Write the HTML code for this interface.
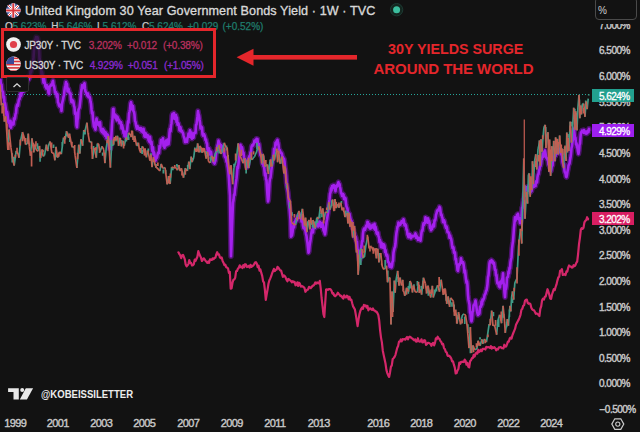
<!DOCTYPE html>
<html><head><meta charset="utf-8">
<style>
html,body{margin:0;padding:0;}
body{width:640px;height:432px;overflow:hidden;background:#121212;position:relative;font-family:"Liberation Sans",sans-serif;}
.abs{position:absolute;white-space:nowrap;}
svg{position:absolute;left:0;top:0;}
.yl{position:absolute;left:599px;font-size:10px;color:#c8c8c8;line-height:10px;height:10px;letter-spacing:-0.5px;-webkit-text-stroke:0.4px #c8c8c8;}
.xl{position:absolute;top:418.2px;font-size:11px;color:#c8c8c8;line-height:11px;width:40px;text-align:center;letter-spacing:-0.6px;-webkit-text-stroke:0.4px #c8c8c8;}
.lb{position:absolute;left:592px;width:42px;height:13px;color:#fff;font-size:10px;line-height:13px;text-align:left;}
.ohlc{top:21px;font-size:10px;line-height:11px;color:#1f7d6d;-webkit-text-stroke:0.25px currentColor;}
.lg{font-size:10px;line-height:11px;letter-spacing:-0.15px;-webkit-text-stroke:0.3px currentColor;}
.lb span{position:absolute;left:7px;top:0.8px;letter-spacing:-0.55px;-webkit-text-stroke:0.3px #fff;}
</style></head><body>

<svg width="640" height="432" viewBox="0 0 640 432">
  <line x1="0" y1="94.5" x2="591" y2="94.5" stroke="#26a69a" stroke-width="1" stroke-dasharray="1 2"/>
  <defs><path id="pp" d="M0.0,78.7 0.5,80.0 1.0,86.1 1.5,84.4 2.0,90.3 2.5,91.5 3.0,91.8 3.5,97.6 4.0,96.7 4.5,102.6 5.0,103.2 5.5,106.4 6.0,110.8 6.5,115.3 7.0,111.8 7.5,114.2 8.0,118.7 8.5,122.6 9.0,121.6 9.5,121.3 10.0,126.4 10.5,120.7 11.0,127.6 11.5,124.5 12.0,124.4 12.5,122.6 13.0,122.4 13.5,124.5 14.0,118.3 14.5,119.6 15.0,118.1 15.5,114.1 16.0,113.2 16.5,107.6 17.0,105.4 17.5,104.3 18.0,105.7 18.5,101.9 19.0,99.2 19.5,99.2 20.0,96.2 20.5,93.4 21.0,96.0 21.5,94.3 22.0,90.0 22.5,91.5 23.0,90.1 23.5,91.7 24.0,89.7 24.5,85.5 25.0,89.5 25.5,82.3 26.0,83.4 26.5,84.9 27.0,79.5 27.5,80.9 28.0,76.7 28.5,79.7 29.0,78.9 29.5,76.0 30.0,76.7 30.5,71.2 31.0,72.4 31.5,70.2 32.0,68.6 32.5,63.2 33.0,61.4 33.5,57.7 34.0,49.8 34.5,47.7 35.0,39.8 35.5,41.0 36.0,37.1 36.5,40.6 37.0,40.3 37.5,37.4 38.0,39.2 38.5,47.5 39.0,49.1 39.5,58.5 40.0,62.6 40.5,64.6 41.0,66.5 41.5,73.9 42.0,71.7 42.5,74.8 43.0,78.2 43.5,82.7 44.0,77.9 44.5,81.6 45.0,83.3 45.5,86.7 46.0,87.2 46.5,88.5 47.0,85.3 47.5,87.3 48.0,88.0 48.5,92.8 49.0,93.9 49.5,87.1 50.0,86.3 50.5,85.7 51.0,84.7 51.5,85.5 52.0,85.2 52.5,81.9 53.0,80.8 53.5,85.0 54.0,85.9 54.5,88.6 55.0,92.6 55.5,91.9 56.0,92.3 56.5,94.9 57.0,97.1 57.5,94.4 58.0,102.3 58.5,103.2 59.0,105.4 59.5,106.3 60.0,104.8 60.5,106.3 61.0,105.7 61.5,111.0 62.0,104.2 62.5,101.5 63.0,99.9 63.5,96.8 64.0,95.3 64.5,90.4 65.0,87.1 65.5,85.3 66.0,82.0 66.5,85.2 67.0,84.0 67.5,91.4 68.0,90.8 68.5,88.7 69.0,90.8 69.5,92.7 70.0,94.0 70.5,93.5 71.0,100.0 71.5,102.3 72.0,99.8 72.5,101.7 73.0,100.6 73.5,102.5 74.0,106.0 74.5,107.2 75.0,113.7 75.5,112.2 76.0,114.6 76.5,125.2 77.0,127.2 77.5,119.8 78.0,118.0 78.5,109.6 79.0,108.6 79.5,107.7 80.0,103.6 80.5,99.1 81.0,92.6 81.5,90.1 82.0,85.3 82.5,88.2 83.0,86.1 83.5,87.5 84.0,83.9 84.5,83.2 85.0,88.9 85.5,91.7 86.0,92.2 86.5,93.3 87.0,94.9 87.5,95.8 88.0,93.6 88.5,97.2 89.0,97.5 89.5,96.6 90.0,98.1 90.5,101.6 91.0,103.8 91.5,109.2 92.0,113.5 92.5,112.2 93.0,119.1 93.5,123.2 94.0,126.7 94.5,125.9 95.0,128.2 95.5,129.6 96.0,122.4 96.5,118.5 97.0,122.0 97.5,124.5 98.0,124.6 98.5,122.5 99.0,124.2 99.5,126.1 100.0,122.2 100.5,127.6 101.0,130.7 101.5,131.0 102.0,132.1 102.5,130.8 103.0,128.9 103.5,133.5 104.0,130.5 104.5,134.1 105.0,135.6 105.5,132.2 106.0,133.2 106.5,138.2 107.0,137.6 107.5,134.6 108.0,135.3 108.5,138.0 109.0,146.4 109.5,148.6 110.0,146.8 110.5,148.7 111.0,142.9 111.5,133.6 112.0,124.5 112.5,119.0 113.0,109.0 113.5,108.9 114.0,116.5 114.5,114.8 115.0,114.6 115.5,118.2 116.0,115.5 116.5,119.7 117.0,120.3 117.5,116.9 118.0,118.2 118.5,119.5 119.0,119.9 119.5,123.1 120.0,121.5 120.5,123.4 121.0,122.1 121.5,128.4 122.0,125.1 122.5,127.1 123.0,129.4 123.5,133.2 124.0,131.2 124.5,136.2 125.0,134.7 125.5,136.4 126.0,137.8 126.5,131.1 127.0,131.0 127.5,126.1 128.0,121.2 128.5,122.6 129.0,113.8 129.5,111.7 130.0,109.2 130.5,103.7 131.0,102.2 131.5,105.0 132.0,106.6 132.5,109.7 133.0,106.1 133.5,111.3 134.0,111.8 134.5,114.8 135.0,121.1 135.5,121.9 136.0,125.0 136.5,127.1 137.0,128.8 137.5,126.1 138.0,128.0 138.5,127.8 139.0,128.4 139.5,129.7 140.0,128.0 140.5,128.5 141.0,128.1 141.5,131.5 142.0,129.7 142.5,131.0 143.0,132.5 143.5,128.8 144.0,132.2 144.5,136.3 145.0,136.8 145.5,133.0 146.0,134.1 146.5,137.3 147.0,134.9 147.5,136.3 148.0,135.4 148.5,139.9 149.0,141.0 149.5,142.0 150.0,136.9 150.5,142.6 151.0,143.9 151.5,141.8 152.0,148.8 152.5,151.1 153.0,147.4 153.5,154.4 154.0,152.2 154.5,154.6 155.0,160.0 155.5,160.6 156.0,157.6 156.5,158.3 157.0,157.6 157.5,155.1 158.0,152.9 158.5,152.2 159.0,153.1 159.5,146.0 160.0,147.8 160.5,145.0 161.0,140.0 161.5,140.2 162.0,140.3 162.5,140.5 163.0,138.3 163.5,145.9 164.0,145.5 164.5,147.8 165.0,142.0 165.5,142.6 166.0,140.5 166.5,145.3 167.0,141.1 167.5,139.6 168.0,141.2 168.5,144.3 169.0,140.3 169.5,133.0 170.0,129.0 170.5,131.3 171.0,125.5 171.5,123.2 172.0,115.5 172.5,113.8 173.0,118.0 173.5,115.8 174.0,113.0 174.5,118.9 175.0,116.4 175.5,118.9 176.0,115.0 176.5,121.9 177.0,117.6 177.5,124.6 178.0,123.0 178.5,123.5 179.0,126.4 179.5,130.4 180.0,126.9 180.5,127.3 181.0,131.4 181.5,130.6 182.0,130.9 182.5,132.5 183.0,132.9 183.5,135.3 184.0,137.3 184.5,138.3 185.0,142.2 185.5,139.5 186.0,141.7 186.5,140.0 187.0,141.9 187.5,137.6 188.0,137.3 188.5,133.6 189.0,136.8 189.5,133.5 190.0,130.2 190.5,133.2 191.0,137.5 191.5,132.6 192.0,138.7 192.5,136.9 193.0,136.5 193.5,137.6 194.0,133.1 194.5,132.6 195.0,132.6 195.5,132.9 196.0,124.8 196.5,124.7 197.0,120.3 197.5,116.2 198.0,111.0 198.5,114.1 199.0,115.5 199.5,119.5 200.0,122.5 200.5,128.4 201.0,126.3 201.5,126.9 202.0,127.6 202.5,134.1 203.0,135.6 203.5,135.5 204.0,134.2 204.5,135.4 205.0,137.3 205.5,140.0 206.0,139.4 206.5,142.9 207.0,143.2 207.5,149.4 208.0,150.7 208.5,149.1 209.0,148.3 209.5,154.4 210.0,151.2 210.5,152.8 211.0,151.6 211.5,155.7 212.0,157.7 212.5,159.4 213.0,158.8 213.5,162.3 214.0,160.4 214.5,163.6 215.0,161.9 215.5,160.5 216.0,154.7 216.5,151.1 217.0,149.5 217.5,145.6 218.0,144.4 218.5,140.6 219.0,143.1 219.5,143.5 220.0,145.0 220.5,147.1 221.0,145.0 221.5,145.6 222.0,150.9 222.5,146.7 223.0,151.5 223.5,152.2 224.0,149.5 224.5,155.7 225.0,157.2 225.5,156.7 226.0,158.5 226.5,161.7 227.0,160.2 227.5,165.4 228.0,168.0 228.5,172.8 229.0,179.1 229.5,188.1 230.0,195.5 230.5,227.5 231.0,256.2 231.5,243.7 232.0,228.3 232.5,214.6 233.0,202.7 233.5,200.1 234.0,194.5 234.5,195.1 235.0,189.4 235.5,185.8 236.0,181.8 236.5,178.4 237.0,173.6 237.5,166.9 238.0,168.1 238.5,164.1 239.0,158.8 239.5,155.2 240.0,152.2 240.5,144.9 241.0,148.3 241.5,146.9 242.0,147.3 242.5,149.9 243.0,154.2 243.5,152.6 244.0,157.2 244.5,160.2 245.0,159.0 245.5,160.0 246.0,162.2 246.5,165.1 247.0,167.2 247.5,165.8 248.0,164.0 248.5,158.7 249.0,157.2 249.5,155.9 250.0,156.8 250.5,152.3 251.0,151.9 251.5,146.9 252.0,145.5 252.5,145.0 253.0,145.6 253.5,144.0 254.0,143.1 254.5,140.6 255.0,141.7 255.5,141.1 256.0,140.9 256.5,138.7 257.0,142.8 257.5,139.1 258.0,145.5 258.5,147.2 259.0,144.0 259.5,148.5 260.0,152.5 260.5,155.4 261.0,154.7 261.5,155.8 262.0,157.7 262.5,164.0 263.0,162.0 263.5,166.3 264.0,166.0 264.5,170.5 265.0,175.3 265.5,173.2 266.0,179.4 266.5,180.1 267.0,188.2 267.5,195.7 268.0,201.5 268.5,199.2 269.0,190.9 269.5,182.4 270.0,178.6 270.5,177.6 271.0,173.7 271.5,169.2 272.0,164.6 272.5,161.9 273.0,158.0 273.5,157.1 274.0,148.8 274.5,150.6 275.0,148.8 275.5,142.8 276.0,144.8 276.5,141.4 277.0,141.0 277.5,139.9 278.0,142.4 278.5,144.5 279.0,149.7 279.5,149.7 280.0,150.5 280.5,152.9 281.0,153.1 281.5,152.9 282.0,154.1 282.5,158.9 283.0,157.1 283.5,161.4 284.0,158.8 284.5,161.3 285.0,167.2 285.5,170.2 286.0,175.7 286.5,183.4 287.0,186.6 287.5,189.8 288.0,192.5 288.5,198.3 289.0,203.8 289.5,207.1 290.0,213.4 290.5,219.9 291.0,236.6 291.5,236.0 292.0,235.3 292.5,232.6 293.0,228.5 293.5,225.0 294.0,227.5 294.5,222.0 295.0,222.5 295.5,220.4 296.0,218.8 296.5,219.8 297.0,220.3 297.5,216.4 298.0,218.2 298.5,216.1 299.0,217.2 299.5,216.2 300.0,214.8 300.5,214.8 301.0,216.5 301.5,221.5 302.0,220.8 302.5,220.8 303.0,225.8 303.5,228.1 304.0,227.1 304.5,227.4 305.0,229.5 305.5,230.8 306.0,234.0 306.5,235.9 307.0,239.8 307.5,243.1 308.0,247.9 308.5,252.7 309.0,251.3 309.5,246.1 310.0,242.7 310.5,239.9 311.0,235.8 311.5,232.2 312.0,229.7 312.5,229.8 313.0,232.4 313.5,227.1 314.0,228.0 314.5,227.7 315.0,227.9 315.5,224.0 316.0,224.0 316.5,223.6 317.0,224.2 317.5,224.1 318.0,226.5 318.5,225.7 319.0,225.7 319.5,221.5 320.0,221.8 320.5,225.6 321.0,226.8 321.5,224.9 322.0,225.7 322.5,222.9 323.0,226.1 323.5,230.2 324.0,231.0 324.5,232.5 325.0,234.4 325.5,230.9 326.0,226.0 326.5,222.0 327.0,219.8 327.5,216.4 328.0,213.4 328.5,208.0 329.0,203.3 329.5,199.7 330.0,193.8 330.5,192.6 331.0,188.3 331.5,190.5 332.0,186.0 332.5,188.0 333.0,186.0 333.5,185.2 334.0,185.3 334.5,186.9 335.0,189.9 335.5,191.2 336.0,187.3 336.5,185.7 337.0,186.7 337.5,185.6 338.0,183.2 338.5,182.2 339.0,185.6 339.5,184.0 340.0,187.0 340.5,189.3 341.0,193.4 341.5,193.3 342.0,196.0 342.5,194.6 343.0,194.0 343.5,194.7 344.0,199.1 344.5,198.5 345.0,197.7 345.5,198.5 346.0,203.3 346.5,206.5 347.0,207.5 347.5,209.0 348.0,212.8 348.5,215.6 349.0,213.5 349.5,214.0 350.0,217.1 350.5,219.0 351.0,221.8 351.5,221.1 352.0,226.2 352.5,228.0 353.0,228.9 353.5,229.4 354.0,235.4 354.5,233.6 355.0,237.8 355.5,236.4 356.0,237.9 356.5,242.3 357.0,241.9 357.5,249.0 358.0,250.2 358.5,252.3 359.0,256.2 359.5,260.8 360.0,259.4 360.5,256.6 361.0,248.2 361.5,245.8 362.0,241.1 362.5,241.4 363.0,233.4 363.5,230.1 364.0,228.6 364.5,228.8 365.0,229.9 365.5,228.3 366.0,226.0 366.5,225.9 367.0,224.0 367.5,221.9 368.0,222.2 368.5,227.1 369.0,227.1 369.5,224.4 370.0,228.7 370.5,228.3 371.0,228.3 371.5,227.6 372.0,226.3 372.5,224.9 373.0,225.9 373.5,225.7 374.0,228.4 374.5,223.9 375.0,229.6 375.5,226.9 376.0,229.0 376.5,232.7 377.0,234.0 377.5,233.3 378.0,232.6 378.5,236.3 379.0,237.4 379.5,242.0 380.0,240.0 380.5,242.6 381.0,247.1 381.5,242.9 382.0,245.2 382.5,247.6 383.0,247.7 383.5,244.2 384.0,244.7 384.5,246.2 385.0,252.0 385.5,249.9 386.0,253.7 386.5,255.8 387.0,254.7 387.5,256.4 388.0,262.0 388.5,262.3 389.0,262.5 389.5,266.6 390.0,265.0 390.5,265.3 391.0,264.3 391.5,267.5 392.0,265.8 392.5,261.8 393.0,260.8 393.5,252.7 394.0,250.3 394.5,248.0 395.0,247.0 395.5,243.5 396.0,237.0 396.5,232.7 397.0,230.0 397.5,226.7 398.0,226.7 398.5,222.5 399.0,225.4 399.5,224.7 400.0,224.9 400.5,224.3 401.0,223.1 401.5,221.3 402.0,220.9 402.5,220.8 403.0,222.7 403.5,219.3 404.0,221.3 404.5,225.4 405.0,224.1 405.5,224.5 406.0,225.6 406.5,229.6 407.0,229.8 407.5,234.5 408.0,235.3 408.5,237.2 409.0,234.5 409.5,233.9 410.0,234.3 410.5,236.8 411.0,238.2 411.5,237.2 412.0,235.8 412.5,236.1 413.0,236.4 413.5,236.0 414.0,235.7 414.5,235.8 415.0,235.5 415.5,233.4 416.0,237.8 416.5,235.6 417.0,237.7 417.5,237.3 418.0,239.9 418.5,237.8 419.0,238.7 419.5,239.3 420.0,239.5 420.5,240.7 421.0,236.4 421.5,232.5 422.0,230.2 422.5,230.6 423.0,226.0 423.5,223.2 424.0,224.9 424.5,222.7 425.0,223.2 425.5,217.2 426.0,219.2 426.5,221.3 427.0,221.8 427.5,222.6 428.0,218.4 428.5,220.4 429.0,220.8 429.5,222.5 430.0,227.9 430.5,227.2 431.0,230.3 431.5,227.1 432.0,229.0 432.5,226.2 433.0,224.5 433.5,226.6 434.0,226.5 434.5,220.2 435.0,220.7 435.5,218.9 436.0,214.8 436.5,213.6 437.0,211.0 437.5,210.3 438.0,209.6 438.5,210.4 439.0,209.6 439.5,206.9 440.0,207.8 440.5,211.4 441.0,215.2 441.5,214.6 442.0,217.2 442.5,218.1 443.0,222.1 443.5,221.8 444.0,220.3 444.5,221.5 445.0,224.1 445.5,226.2 446.0,228.0 446.5,226.4 447.0,228.1 447.5,232.2 448.0,231.9 448.5,232.3 449.0,233.4 449.5,237.8 450.0,235.4 450.5,237.7 451.0,238.5 451.5,240.9 452.0,245.2 452.5,248.0 453.0,246.8 453.5,247.9 454.0,252.7 454.5,251.9 455.0,252.9 455.5,259.5 456.0,259.0 456.5,263.8 457.0,264.6 457.5,270.0 458.0,270.8 458.5,267.2 459.0,264.3 459.5,265.0 460.0,263.4 460.5,262.8 461.0,258.2 461.5,261.9 462.0,261.5 462.5,263.2 463.0,262.2 463.5,263.9 464.0,267.7 464.5,272.3 465.0,270.6 465.5,275.1 466.0,279.3 466.5,282.7 467.0,281.2 467.5,285.7 468.0,294.7 468.5,299.7 469.0,301.9 469.5,304.5 470.0,312.7 470.5,313.3 471.0,319.4 471.5,321.3 472.0,318.8 472.5,311.8 473.0,311.4 473.5,305.6 474.0,304.6 474.5,304.9 475.0,302.9 475.5,300.5 476.0,303.7 476.5,307.6 477.0,311.2 477.5,313.4 478.0,315.0 478.5,313.6 479.0,314.1 479.5,313.0 480.0,306.5 480.5,307.1 481.0,306.6 481.5,301.6 482.0,304.5 482.5,299.5 483.0,300.7 483.5,299.2 484.0,298.4 484.5,295.4 485.0,294.3 485.5,293.5 486.0,291.0 486.5,290.6 487.0,287.8 487.5,284.1 488.0,277.1 488.5,275.3 489.0,269.7 489.5,263.5 490.0,261.4 490.5,262.1 491.0,261.0 491.5,260.2 492.0,262.4 492.5,261.1 493.0,261.8 493.5,264.0 494.0,262.9 494.5,267.1 495.0,269.9 495.5,269.9 496.0,275.4 496.5,275.0 497.0,280.8 497.5,283.4 498.0,283.6 498.5,282.7 499.0,286.5 499.5,286.1 500.0,287.4 500.5,281.5 501.0,283.5 501.5,282.6 502.0,279.5 502.5,278.3 503.0,273.4 503.5,282.5 504.0,285.0 504.5,292.4 505.0,297.2 505.5,289.5 506.0,289.0 506.5,286.0 507.0,277.7 507.5,277.0 508.0,276.9 508.5,271.6 509.0,273.2 509.5,267.8 510.0,268.4 510.5,262.2 511.0,259.5 511.5,257.2 512.0,248.9 512.5,244.6 513.0,241.3 513.5,234.8 514.0,227.7 514.5,222.9 515.0,217.2 515.5,220.6 516.0,218.6 516.5,219.1 517.0,214.7 517.5,217.3 518.0,213.9 518.5,217.4 519.0,219.3 519.5,219.2 520.0,223.2 520.5,222.8 521.0,219.5 521.5,216.4 522.0,207.7 522.5,208.0 523.0,203.2 523.5,199.1 524.0,198.3 524.5,193.0 525.0,194.7 525.5,190.5 526.0,187.3 526.5,189.6 527.0,188.1 527.5,186.9 528.0,190.0 528.5,186.6 529.0,190.8 529.5,188.0 530.0,190.2 530.5,192.2 531.0,190.3 531.5,190.9 532.0,188.3 532.5,185.9 533.0,185.3 533.5,185.2 534.0,186.8 534.5,185.1 535.0,184.8 535.5,186.0 536.0,181.3 536.5,181.0 537.0,182.5 537.5,176.9 538.0,174.5 538.5,174.0 539.0,170.4 539.5,169.4 540.0,166.3 540.5,165.9 541.0,163.6 541.5,159.3 542.0,159.1 542.5,156.0 543.0,153.3 543.5,156.8 544.0,152.5 544.5,151.4 545.0,150.4 545.5,153.1 546.0,156.5 546.5,158.1 547.0,158.3 547.5,159.7 548.0,160.5 548.5,164.7 549.0,165.2 549.5,165.1 550.0,167.6 550.5,167.5 551.0,171.0 551.5,168.2 552.0,163.9 552.5,165.6 553.0,159.4 553.5,160.3 554.0,158.1 554.5,155.9 555.0,153.7 555.5,156.1 556.0,150.8 556.5,152.3 557.0,153.6 557.5,148.8 558.0,148.5 558.5,149.9 559.0,148.7 559.5,149.7 560.0,152.3 560.5,150.7 561.0,153.2 561.5,154.8 562.0,155.3 562.5,161.9 563.0,163.7 563.5,165.7 564.0,164.3 564.5,171.0 565.0,172.7 565.5,173.1 566.0,176.5 566.5,177.0 567.0,174.9 567.5,171.5 568.0,169.4 568.5,165.6 569.0,164.4 569.5,163.6 570.0,160.1 570.5,157.6 571.0,153.6 571.5,148.0 572.0,146.2 572.5,141.8 573.0,139.5 573.5,134.0 574.0,128.6 574.5,133.7 575.0,138.6 575.5,137.9 576.0,144.5 576.5,143.2 577.0,147.3 577.5,148.2 578.0,151.8 578.5,153.9 579.0,150.9 579.5,144.8 580.0,143.7 580.5,136.8 581.0,132.4 581.5,131.9 582.0,130.6 582.5,131.0 583.0,131.0 583.5,132.7 584.0,130.1 584.5,132.2 585.0,131.9 585.5,133.3 586.0,131.6 586.5,133.6 587.0,133.4 587.5,131.5 588.0,130.5 588.5,132.1 589.0,128.8 589.0,131.0"/></defs>
  <use href="#pp" stroke="#9414dc" stroke-opacity="0.45" stroke-width="5.5" fill="none" stroke-linejoin="round"/>
  <use href="#pp" stroke="#a420ee" stroke-width="2.6" fill="none" stroke-linejoin="round"/>
  <path d="M1.31,105.4L3.06,103.2M4.37,121.6L5.76,116.2M7.88,149.9L9.09,129.5M14.16,165.6L16.21,150.8M19.04,157.7L20.44,141.3M20.44,141.3L22.48,132.1M25.60,144.7L27.36,142.8M27.36,142.8L28.28,133.6M30.48,155.7L31.94,138.3M33.79,152.3L34.71,144.5M37.88,151.3L39.50,145.9M40.55,158.0L42.14,149.3M43.15,156.3L44.48,155.4M44.48,155.4L46.38,144.7M47.66,151.2L48.51,145.7M48.51,145.7L49.99,141.5M54.91,160.3L55.96,146.8M57.54,157.7L59.67,151.8M61.31,154.2L63.45,137.7M65.15,139.5L66.50,131.2M68.65,137.8L69.50,133.6M72.43,147.4L74.14,146.7M76.89,168.0L78.75,144.7M79.91,153.5L80.95,139.2M82.69,145.8L83.77,130.0M84.88,131.8L86.92,122.7M89.54,142.1L91.49,141.6M92.49,158.9L94.29,147.8M96.31,157.7L97.32,143.5M99.84,152.1L102.01,146.3M104.94,163.1L106.25,147.6M106.25,147.6L108.35,136.0M110.40,167.6L111.61,145.1M111.61,145.1L113.54,145.1M113.54,145.1L114.35,137.1M115.41,140.8L116.51,140.6M116.51,140.6L117.56,136.3M118.64,145.8L120.29,137.9M121.38,146.4L123.32,140.8M124.21,146.1L126.02,137.5M127.29,139.8L128.78,132.8M131.31,137.2L132.34,130.9M133.14,139.9L134.66,135.8M136.61,145.6L138.40,142.7M140.78,153.0L142.33,146.3M144.60,155.4L145.53,150.3M146.36,157.3L147.89,150.6M149.91,160.6L150.88,154.6M152.07,167.2L153.06,158.5M159.87,171.0L161.13,163.9M163.06,168.4L165.05,167.5M167.19,184.4L168.58,176.0M170.12,184.0L171.63,167.1M173.79,167.8L175.47,167.1M177.51,170.2L178.68,165.2M180.24,171.1L181.39,168.2M183.53,177.7L185.23,168.2M187.37,171.0L188.82,161.7M189.80,169.1L191.17,156.6M192.09,162.1L193.74,157.4M193.74,157.4L194.82,148.6M196.39,152.0L197.63,143.4M199.14,152.4L199.96,145.9M202.29,152.7L204.17,148.1M206.19,158.7L207.54,151.8M210.32,162.9L211.62,155.7M213.61,161.7L215.44,152.6M215.44,152.6L216.91,152.1M216.91,152.1L218.99,145.0M221.29,153.9L222.68,149.0M222.68,149.0L224.33,142.8M225.77,147.4L227.11,147.4M229.86,174.3L231.09,165.4M232.70,184.2L233.96,167.8M233.96,167.8L236.10,161.0M236.10,161.0L238.17,143.4M243.17,163.2L244.52,158.2M245.81,170.0L247.35,159.8M248.71,168.1L250.74,157.5M252.15,159.7L253.44,157.6M253.44,157.6L254.47,156.8M254.47,156.8L256.43,152.0M256.43,152.0L258.48,146.2M261.69,163.5L263.19,153.8M264.88,166.6L267.07,164.4M268.44,174.0L270.21,159.6M272.19,166.5L273.27,154.9M274.44,159.6L276.63,149.0M277.60,162.3L278.55,150.7M280.08,163.7L282.01,156.7M283.89,173.5L285.19,166.6M286.13,183.5L287.42,183.2M295.52,224.9L297.67,214.4M297.67,214.4L298.81,211.3M299.92,219.1L301.40,213.2M301.40,213.2L302.44,208.8M304.60,225.6L305.56,217.7M306.92,232.1L308.88,219.9M309.95,229.3L310.80,219.7M311.82,224.7L312.99,220.1M315.44,227.7L316.76,217.8M318.90,218.3L320.33,206.5M321.49,213.7L322.81,208.4M323.91,219.8L325.43,211.9M327.31,212.8L328.90,202.1M329.82,209.7L331.07,206.4M331.07,206.4L332.66,199.5M333.87,211.1L334.99,199.0M336.19,208.1L338.07,204.0M339.06,207.8L340.81,202.7M342.18,210.3L343.33,207.5M345.01,217.1L347.09,213.1M347.95,223.5L349.02,212.9M349.88,226.7L350.93,221.4M352.73,237.6L354.49,225.9M356.46,252.5L357.32,249.8M358.19,274.7L360.09,249.5M360.09,249.5L361.94,249.2M363.29,257.5L364.49,256.8M364.49,256.8L365.88,245.4M365.88,245.4L367.72,236.6M369.15,248.5L370.55,246.1M373.31,250.8L374.88,248.5M376.44,258.3L377.74,248.7M378.97,262.4L380.71,253.0M384.53,269.2L386.47,265.7M387.50,282.3L388.95,278.3M388.95,278.3L389.91,277.5M391.00,324.4L392.07,291.5M393.03,312.0L394.34,280.6M395.16,292.6L396.07,279.9M396.07,279.9L397.66,270.9M399.07,285.6L399.88,277.6M401.56,285.5L402.71,279.8M404.77,295.9L406.75,287.8M408.65,291.6L409.91,281.0M412.47,292.5L413.33,285.5M417.40,292.1L418.42,281.9M419.33,292.9L420.75,289.5M421.61,294.6L423.42,277.7M426.62,293.1L428.00,285.6M430.77,297.5L432.36,285.8M433.28,297.5L435.44,291.0M435.44,291.0L437.60,285.2M439.54,291.7L441.19,279.8M443.32,294.8L444.54,288.5M446.81,303.9L448.13,296.4M449.67,306.8L450.63,297.8M454.50,315.8L455.62,309.7M457.14,323.6L458.51,312.1M460.52,324.4L462.38,315.1M462.38,315.1L464.19,314.1M469.01,348.1L470.33,327.1M471.43,353.0L472.83,345.3M474.85,349.8L476.87,348.8M476.87,348.8L478.15,340.7M480.10,345.8L481.93,339.3M482.80,343.8L484.36,338.9M486.46,342.2L487.53,335.1M487.53,335.1L489.14,324.0M490.10,325.2L491.67,310.7M493.01,325.8L494.56,325.1M496.69,334.8L497.70,321.2M497.70,321.2L499.62,314.8M501.57,323.2L503.03,305.8M505.29,332.9L507.34,319.0M508.38,325.6L509.99,305.8M510.80,311.4L511.62,297.3M511.62,297.3L512.49,291.4M513.67,299.6L514.84,282.8M514.84,282.8L516.98,278.4M516.98,278.4L518.56,246.4M518.56,246.4L520.45,228.8M521.75,243.6L523.78,158.4M525.00,218.7L526.51,191.8M527.55,203.6L528.42,174.6M528.42,174.6L529.41,173.4M530.20,196.7L530.80,177.9M531.76,190.1L532.49,161.2M533.34,184.1L534.69,160.4M534.69,160.4L535.76,154.3M536.82,169.5L538.04,148.7M538.04,148.7L538.70,146.3M538.70,146.3L539.52,140.4M540.25,165.7L541.02,139.3M542.10,151.7L542.86,139.3M542.86,139.3L543.94,127.3M543.94,127.3L545.24,124.8M545.99,148.0L547.11,137.0M547.11,137.0L547.97,132.2M548.89,171.8L549.54,139.6M550.64,175.9L551.72,146.2M552.33,161.4L553.72,140.9M554.90,161.2L555.62,137.4M556.29,153.9L557.32,138.9M558.45,154.5L559.64,135.5M560.85,152.9L562.07,148.5M563.60,168.2L564.72,146.7M566.12,160.9L566.79,132.6M567.44,152.4L568.18,137.9M568.90,151.0L570.24,121.6M571.46,142.6L572.46,131.3M572.46,131.3L573.70,107.8M575.02,129.8L575.68,111.2M576.97,130.4L577.89,108.0M577.89,108.0L579.00,94.9M579.81,118.3L580.57,105.5M581.41,114.4L582.46,103.9M582.46,103.9L583.76,103.6M585.02,116.8L586.01,101.5M587.15,109.1L588.21,98.6M0.30,87.8V96.6M12.21,153.2V162.4M13.78,156.7V162.6M37.47,143.3V148.9M40.07,152.6V161.8M48.24,147.1V149.1M53.57,144.4V148.0M56.64,154.4V157.0M62.23,142.1V147.3M67.51,132.6V136.5M69.80,137.1V142.1M79.40,148.9V153.7M85.09,129.9V134.5M93.55,146.0V152.8M102.68,152.6V155.8M109.74,139.5V146.5M111.79,140.3V145.8M117.40,135.5V139.1M119.49,137.5V142.6M121.70,140.0V144.6M126.41,139.4V141.6M128.67,136.4V140.1M137.39,142.5V146.2M142.12,150.0V154.0M148.30,148.5V151.8M150.93,153.2V159.1M156.06,164.1V168.1M163.34,169.4V173.4M165.68,170.1V174.2M172.86,167.0V170.2M176.89,163.9V166.7M187.70,165.0V167.3M189.34,162.2V165.0M191.96,158.0V162.2M194.81,147.5V150.4M201.11,147.4V152.5M206.10,151.1V154.1M208.23,153.9V156.6M210.38,156.8V159.4M219.05,149.5V153.6M220.78,151.2V154.1M226.47,145.6V150.5M228.16,155.0V162.2M234.02,163.8V167.8M244.45,158.9V161.9M246.14,166.3V173.5M256.99,142.8V149.2M259.45,147.2V150.0M263.62,155.5V160.7M267.61,164.4V171.5M279.26,156.5V160.6M280.93,159.8V163.7M286.70,184.9V188.5M289.58,202.0V208.6M292.00,212.2V215.8M305.02,219.5V226.8M307.79,221.3V227.1M312.69,222.0V227.4M314.46,221.5V228.8M317.45,216.8V222.9M319.82,212.5V218.5M321.92,211.9V217.2M328.80,203.9V208.6M331.72,200.3V206.0M341.43,201.0V203.7M345.70,210.5V215.4M347.78,211.5V215.0M360.85,258.1V264.9M362.73,255.2V258.6M378.88,253.0V257.5M385.19,260.1V268.4M387.80,270.4V282.6M398.20,276.9V281.9M400.29,277.5V282.3M408.33,285.9V293.7M410.53,282.5V288.5M413.96,284.3V289.6M417.38,281.0V285.7M421.30,286.0V290.7M428.31,290.1V295.8M434.49,289.4V293.4M436.51,288.6V291.6M441.13,279.5V285.3M446.10,294.3V300.8M448.98,300.2V304.6M451.97,302.2V306.8M454.17,304.6V311.8M458.89,313.9V319.2M464.74,316.4V324.0M467.91,324.3V333.0M470.41,340.1V353.3M480.03,337.3V339.5M483.47,339.9V343.5M493.42,312.1V316.3M498.69,319.3V327.1M503.77,313.9V317.8M506.72,322.1V327.3M509.40,309.5V316.9M512.51,298.4V303.1M524.78,185.1V196.9M527.68,186.4V196.1M532.93,164.2V175.2M540.31,143.1V152.9M545.77,126.9V141.5M552.58,147.1V154.8M555.97,145.9V151.1M567.80,133.9V137.8M571.96,121.7V126.6M574.88,108.7V111.8M576.48,112.9V116.7M579.41,99.5V105.9M581.85,105.4V111.1M585.76,100.5V106.2M588.75,94.3V95.6" stroke="#409a86" stroke-width="1.7" fill="none"/>
  <path d="M0.00,84.6L1.31,105.4M3.06,103.2L4.37,121.6M5.76,116.2L7.88,149.9M9.09,129.5L10.87,147.1M10.87,147.1L12.52,158.4M12.52,158.4L14.16,165.6M16.21,150.8L17.85,153.1M17.85,153.1L19.04,157.7M22.48,132.1L24.42,138.2M24.42,138.2L25.60,144.7M28.28,133.6L29.36,146.6M29.36,146.6L30.48,155.7M31.94,138.3L33.79,152.3M34.71,144.5L35.84,149.1M35.84,149.1L37.88,151.3M39.50,145.9L40.55,158.0M42.14,149.3L43.15,156.3M46.38,144.7L47.66,151.2M49.99,141.5L51.88,152.8M51.88,152.8L53.75,153.4M53.75,153.4L54.91,160.3M55.96,146.8L57.54,157.7M59.67,151.8L61.31,154.2M63.45,137.7L65.15,139.5M66.50,131.2L68.65,137.8M69.50,133.6L71.57,145.1M71.57,145.1L72.43,147.4M74.14,146.7L75.14,155.7M75.14,155.7L76.89,168.0M78.75,144.7L79.91,153.5M80.95,139.2L82.69,145.8M83.77,130.0L84.88,131.8M86.92,122.7L87.86,132.4M87.86,132.4L89.54,142.1M91.49,141.6L92.49,158.9M94.29,147.8L96.31,157.7M97.32,143.5L98.59,143.8M98.59,143.8L99.84,152.1M102.01,146.3L103.74,149.5M103.74,149.5L104.94,163.1M108.35,136.0L110.40,167.6M114.35,137.1L115.41,140.8M117.56,136.3L118.64,145.8M120.29,137.9L121.38,146.4M123.32,140.8L124.21,146.1M126.02,137.5L127.29,139.8M128.78,132.8L130.25,134.7M130.25,134.7L131.31,137.2M132.34,130.9L133.14,139.9M134.66,135.8L136.61,145.6M138.40,142.7L139.29,149.2M139.29,149.2L140.78,153.0M142.33,146.3L143.45,148.5M143.45,148.5L144.60,155.4M145.53,150.3L146.36,157.3M147.89,150.6L149.91,160.6M150.88,154.6L152.07,167.2M153.06,158.5L154.07,159.5M154.07,159.5L155.10,165.0M155.10,165.0L156.44,167.3M156.44,167.3L157.98,168.9M157.98,168.9L159.87,171.0M161.13,163.9L163.06,168.4M165.05,167.5L167.19,184.4M168.58,176.0L170.12,184.0M171.63,167.1L173.79,167.8M175.47,167.1L177.51,170.2M178.68,165.2L180.24,171.1M181.39,168.2L183.53,177.7M185.23,168.2L187.37,171.0M188.82,161.7L189.80,169.1M191.17,156.6L192.09,162.1M194.82,148.6L196.39,152.0M197.63,143.4L199.14,152.4M199.96,145.9L201.09,147.9M201.09,147.9L202.29,152.7M204.17,148.1L206.19,158.7M207.54,151.8L208.49,161.3M208.49,161.3L210.32,162.9M211.62,155.7L213.61,161.7M218.99,145.0L219.79,149.0M219.79,149.0L221.29,153.9M224.33,142.8L225.77,147.4M227.11,147.4L228.37,162.5M228.37,162.5L229.86,174.3M231.09,165.4L232.70,184.2M238.17,143.4L239.77,155.6M239.77,155.6L241.65,159.1M241.65,159.1L243.17,163.2M244.52,158.2L245.81,170.0M247.35,159.8L248.71,168.1M250.74,157.5L252.15,159.7M258.48,146.2L260.67,154.1M260.67,154.1L261.69,163.5M263.19,153.8L264.88,166.6M267.07,164.4L268.44,174.0M270.21,159.6L272.19,166.5M273.27,154.9L274.44,159.6M276.63,149.0L277.60,162.3M278.55,150.7L280.08,163.7M282.01,156.7L283.89,173.5M285.19,166.6L286.13,183.5M287.42,183.2L288.29,198.3M288.29,198.3L290.44,201.0M290.44,201.0L291.59,222.3M291.59,222.3L293.58,224.1M293.58,224.1L295.52,224.9M298.81,211.3L299.92,219.1M302.44,208.8L304.60,225.6M305.56,217.7L306.92,232.1M308.88,219.9L309.95,229.3M310.80,219.7L311.82,224.7M312.99,220.1L314.41,224.9M314.41,224.9L315.44,227.7M316.76,217.8L318.90,218.3M320.33,206.5L321.49,213.7M322.81,208.4L323.91,219.8M325.43,211.9L327.31,212.8M328.90,202.1L329.82,209.7M332.66,199.5L333.87,211.1M334.99,199.0L336.19,208.1M338.07,204.0L339.06,207.8M340.81,202.7L342.18,210.3M343.33,207.5L345.01,217.1M347.09,213.1L347.95,223.5M349.02,212.9L349.88,226.7M350.93,221.4L352.73,237.6M354.49,225.9L356.46,252.5M357.32,249.8L358.19,274.7M361.94,249.2L363.29,257.5M367.72,236.6L369.15,248.5M370.55,246.1L371.53,246.8M371.53,246.8L373.31,250.8M374.88,248.5L376.44,258.3M377.74,248.7L378.97,262.4M380.71,253.0L382.23,266.3M382.23,266.3L383.53,269.1M383.53,269.1L384.53,269.2M386.47,265.7L387.50,282.3M389.91,277.5L391.00,324.4M392.07,291.5L393.03,312.0M394.34,280.6L395.16,292.6M397.66,270.9L399.07,285.6M399.88,277.6L401.56,285.5M402.71,279.8L403.55,290.1M403.55,290.1L404.77,295.9M406.75,287.8L408.65,291.6M409.91,281.0L411.15,283.0M411.15,283.0L412.47,292.5M413.33,285.5L415.28,291.9M415.28,291.9L417.40,292.1M418.42,281.9L419.33,292.9M420.75,289.5L421.61,294.6M423.42,277.7L425.42,283.6M425.42,283.6L426.62,293.1M428.00,285.6L429.74,294.2M429.74,294.2L430.77,297.5M432.36,285.8L433.28,297.5M437.60,285.2L439.54,291.7M441.19,279.8L443.32,294.8M444.54,288.5L445.38,289.3M445.38,289.3L446.81,303.9M448.13,296.4L449.67,306.8M450.63,297.8L452.20,299.7M452.20,299.7L453.35,301.3M453.35,301.3L454.50,315.8M455.62,309.7L457.14,323.6M458.51,312.1L460.52,324.4M464.19,314.1L465.54,315.2M465.54,315.2L467.13,325.5M467.13,325.5L469.01,348.1M470.33,327.1L471.43,353.0M472.83,345.3L474.85,349.8M478.15,340.7L480.10,345.8M481.93,339.3L482.80,343.8M484.36,338.9L486.46,342.2M489.14,324.0L490.10,325.2M491.67,310.7L493.01,325.8M494.56,325.1L496.69,334.8M499.62,314.8L501.57,323.2M503.03,305.8L504.38,319.1M504.38,319.1L505.29,332.9M507.34,319.0L508.38,325.6M509.99,305.8L510.80,311.4M512.49,291.4L513.67,299.6M520.45,228.8L521.75,243.6M523.78,158.4L525.00,218.7M526.51,191.8L527.55,203.6M529.41,173.4L530.20,196.7M530.80,177.9L531.76,190.1M532.49,161.2L533.34,184.1M535.76,154.3L536.82,169.5M539.52,140.4L540.25,165.7M541.02,139.3L542.10,151.7M545.24,124.8L545.99,148.0M547.97,132.2L548.89,171.8M549.54,139.6L550.64,175.9M551.72,146.2L552.33,161.4M553.72,140.9L554.90,161.2M555.62,137.4L556.29,153.9M557.32,138.9L558.45,154.5M559.64,135.5L560.85,152.9M562.07,148.5L562.89,162.1M562.89,162.1L563.60,168.2M564.72,146.7L566.12,160.9M566.79,132.6L567.44,152.4M568.18,137.9L568.90,151.0M570.24,121.6L571.46,142.6M573.70,107.8L575.02,129.8M575.68,111.2L576.97,130.4M579.00,94.9L579.81,118.3M580.57,105.5L581.41,114.4M583.76,103.6L585.02,116.8M586.01,101.5L587.15,109.1M2.16,105.7V113.5M3.71,107.0V116.1M7.04,123.4V137.4M8.87,142.2V150.1M15.35,154.8V157.7M17.06,147.8V153.8M20.32,139.6V145.5M22.68,134.2V141.3M25.65,137.9V141.9M28.15,138.6V144.3M31.58,151.3V166.5M33.43,142.7V147.0M35.95,141.3V146.6M43.01,149.8V152.2M46.45,146.5V149.7M51.59,142.6V148.3M58.79,152.5V156.8M64.75,136.0V143.8M71.94,141.8V146.8M74.67,145.1V153.1M77.61,152.8V159.3M81.95,140.5V143.7M88.38,132.6V134.8M91.55,145.5V148.9M96.09,147.0V150.6M99.59,148.6V152.9M104.92,152.7V157.1M107.10,140.1V143.2M113.47,138.5V144.5M115.82,135.8V140.0M123.58,143.8V148.4M131.69,130.6V134.7M134.11,138.6V142.0M140.54,147.9V152.5M145.16,148.2V151.6M153.39,157.1V162.0M157.85,162.6V166.0M161.33,164.4V167.5M168.78,178.8V183.4M170.39,173.6V177.8M174.76,165.0V168.6M179.04,164.9V169.2M181.96,171.3V175.6M185.33,170.1V174.8M196.61,148.5V151.2M198.30,147.0V152.2M202.92,147.8V152.3M213.84,156.7V158.9M216.62,146.9V151.2M224.27,147.5V152.4M230.74,165.3V169.1M235.59,153.5V160.6M238.98,147.3V150.2M241.38,149.8V155.9M248.57,157.7V163.1M251.36,152.3V157.7M253.61,151.2V154.4M261.19,154.2V159.2M265.86,159.9V164.6M270.89,159.3V166.8M273.97,154.6V160.8M276.97,148.4V152.4M284.00,165.5V168.6M294.33,213.9V217.4M297.29,216.9V220.3M299.07,210.8V214.3M302.53,214.0V220.2M310.87,217.5V223.0M323.65,216.8V223.5M326.83,207.4V210.0M334.59,204.8V210.7M336.26,202.1V207.6M338.95,202.4V207.4M343.77,208.1V212.0M350.16,219.2V226.6M353.03,222.0V231.1M355.07,235.0V241.5M358.35,254.6V270.8M364.23,245.4V252.8M367.35,234.8V239.5M369.96,245.8V251.5M373.31,247.3V253.8M376.06,248.0V255.5M381.74,260.5V265.3M390.76,295.5V303.5M392.53,298.5V316.9M395.21,284.6V289.9M403.08,285.3V291.6M406.51,287.8V294.8M412.35,287.8V291.8M419.28,284.7V289.8M423.33,280.8V288.8M426.51,286.2V293.8M431.15,289.6V293.8M439.14,277.0V286.5M443.98,288.9V294.6M456.71,314.9V323.6M462.09,319.1V323.6M473.56,346.3V352.3M476.46,343.2V347.4M478.10,341.0V345.8M485.12,339.7V343.3M487.88,334.4V337.3M490.27,318.8V325.2M495.60,320.0V325.8M501.27,311.4V320.0M514.15,287.8V291.4M517.02,267.3V283.6M518.90,239.5V255.8M521.87,219.7V231.3M531.02,176.2V185.3M535.69,160.7V167.1M538.46,154.9V161.4M542.72,135.2V139.2M548.86,142.2V165.1M550.58,149.5V160.9M558.24,142.0V150.0M559.77,138.2V143.4M561.28,144.6V151.0M562.87,149.0V155.1M565.02,145.6V153.0M570.06,125.4V131.5M583.48,107.7V113.4" stroke="#c25e52" stroke-width="1.7" fill="none"/>
  <path d="M524.3,119.5V200" stroke="#b8584f" stroke-width="1.3"/>
  <path d="M177.6,252.9 178.5,252.3 179.4,254.2 180.3,255.4 181.2,258.2 182.1,255.4 183.0,254.8 183.9,256.9 184.8,259.4 185.7,264.5 186.6,266.4 187.5,265.3 188.4,264.1 189.3,260.1 190.2,262.8 191.1,262.8 192.0,265.5 192.9,265.2 193.8,264.3 194.7,259.7 195.6,260.8 196.5,258.8 197.4,256.7 198.3,251.2 199.2,253.8 200.1,255.7 201.0,257.6 201.9,261.0 202.8,259.9 203.7,258.3 204.6,259.3 205.5,260.8 206.4,261.7 207.3,262.9 208.2,261.5 209.1,262.8 210.0,259.3 210.9,259.5 211.8,259.9 212.7,258.3 213.6,259.2 214.5,258.0 215.4,257.7 216.3,254.4 217.2,252.2 218.1,254.7 219.0,254.4 219.9,257.4 220.8,258.1 221.7,257.5 222.6,260.9 223.5,262.7 224.4,265.2 225.3,264.6 226.2,267.2 227.1,267.6 228.0,268.3 228.9,272.9 229.8,271.9 230.7,288.6 231.6,288.4 232.5,282.8 233.4,279.7 234.3,279.4 235.2,277.7 236.1,271.3 237.0,271.0 237.9,268.7 238.8,267.7 239.7,265.3 240.6,267.2 241.5,266.6 242.4,268.0 243.3,265.1 244.2,267.3 245.1,264.2 246.0,264.5 246.9,267.0 247.8,266.7 248.7,265.8 249.6,267.6 250.5,264.8 251.4,266.9 252.3,265.9 253.2,265.6 254.1,264.4 255.0,262.6 255.9,262.2 256.8,263.6 257.7,267.2 258.6,265.7 259.5,270.6 260.4,269.4 261.3,272.9 262.2,275.9 263.1,281.3 264.0,282.5 264.9,289.9 265.8,299.8 266.7,294.3 267.6,289.2 268.5,283.5 269.4,280.2 270.3,278.4 271.2,276.2 272.1,273.2 273.0,271.3 273.9,268.8 274.8,271.0 275.7,269.8 276.6,269.7 277.5,266.9 278.4,267.6 279.3,269.2 280.2,270.4 281.1,270.5 282.0,273.8 282.9,276.9 283.8,275.3 284.7,276.0 285.6,277.3 286.5,279.8 287.4,281.3 288.3,279.0 289.2,279.5 290.1,280.3 291.0,281.1 291.9,282.3 292.8,281.2 293.7,282.2 294.6,281.9 295.5,285.3 296.4,284.6 297.3,282.3 298.2,286.0 299.1,282.7 300.0,284.0 300.9,286.6 301.8,286.0 302.7,286.4 303.6,287.1 304.5,288.1 305.4,291.8 306.3,290.6 307.2,289.8 308.1,289.4 309.0,286.9 309.9,287.2 310.8,288.1 311.7,287.1 312.6,285.7 313.5,285.6 314.4,284.3 315.3,282.4 316.2,283.7 317.1,282.4 318.0,283.2 318.9,283.3 319.8,280.8 320.7,288.3 321.6,298.0 322.5,305.7 323.4,313.9 324.3,317.0 325.2,303.0 326.1,289.6 327.0,289.3 327.9,289.9 328.8,289.2 329.7,289.1 330.6,289.4 331.5,290.6 332.4,293.5 333.3,293.1 334.2,295.5 335.1,296.3 336.0,295.4 336.9,294.4 337.8,292.7 338.7,294.0 339.6,294.8 340.5,296.1 341.4,295.9 342.3,297.6 343.2,298.6 344.1,295.4 345.0,297.1 345.9,297.4 346.8,295.7 347.7,296.2 348.6,299.3 349.5,296.8 350.4,299.9 351.3,299.6 352.2,303.2 353.1,306.4 354.0,307.9 354.9,309.5 355.8,314.6 356.7,320.3 357.6,326.2 358.5,319.6 359.4,314.4 360.3,311.0 361.2,308.9 362.1,307.5 363.0,308.8 363.9,304.9 364.8,305.9 365.7,305.3 366.6,307.7 367.5,306.0 368.4,310.3 369.3,308.7 370.2,308.3 371.1,309.3 372.0,309.9 372.9,308.5 373.8,310.3 374.7,310.5 375.6,311.7 376.5,311.5 377.4,313.1 378.3,314.9 379.2,320.5 380.1,330.3 381.0,337.6 381.9,342.4 382.8,350.7 383.7,355.1 384.6,359.3 385.5,363.5 386.4,369.9 387.3,373.1 388.2,375.4 389.1,376.9 390.0,372.7 390.9,366.9 391.8,365.4 392.7,359.0 393.6,358.2 394.5,357.0 395.4,355.1 396.3,351.4 397.2,347.9 398.1,346.1 399.0,341.6 399.9,341.6 400.8,339.4 401.7,341.4 402.6,339.1 403.5,339.5 404.4,339.0 405.3,339.6 406.2,338.1 407.1,337.0 408.0,339.4 408.9,337.2 409.8,336.6 410.7,337.1 411.6,338.2 412.5,338.5 413.4,339.7 414.3,340.3 415.2,339.4 416.1,341.7 417.0,341.4 417.9,338.2 418.8,341.3 419.7,341.6 420.6,341.4 421.5,339.3 422.4,342.5 423.3,342.2 424.2,340.2 425.1,340.6 426.0,344.8 426.9,344.1 427.8,342.9 428.7,342.8 429.6,343.4 430.5,343.8 431.4,345.8 432.3,343.8 433.2,342.8 434.1,345.4 435.0,342.9 435.9,338.3 436.8,339.2 437.7,336.7 438.6,338.4 439.5,339.0 440.4,340.9 441.3,341.9 442.2,344.3 443.1,344.0 444.0,348.1 444.9,349.2 445.8,351.8 446.7,352.4 447.6,355.8 448.5,355.7 449.4,355.8 450.3,357.0 451.2,358.3 452.1,361.4 453.0,361.4 453.9,364.7 454.8,367.6 455.7,373.5 456.6,373.1 457.5,370.5 458.4,369.0 459.3,362.7 460.2,363.8 461.1,361.8 462.0,361.8 462.9,361.7 463.8,362.0 464.7,359.6 465.6,360.8 466.5,364.7 467.4,362.8 468.3,366.7 469.2,367.3 470.1,361.3 471.0,360.2 471.9,358.1 472.8,358.2 473.7,354.9 474.6,356.6 475.5,353.8 476.4,352.7 477.3,353.6 478.2,349.7 479.1,352.0 480.0,351.2 480.9,349.6 481.8,351.2 482.7,348.8 483.6,348.9 484.5,348.8 485.4,349.5 486.3,346.9 487.2,347.5 488.1,347.1 489.0,347.3 489.9,348.0 490.8,346.1 491.7,348.6 492.6,347.2 493.5,347.8 494.4,347.2 495.3,348.4 496.2,350.3 497.1,348.9 498.0,349.4 498.9,347.4 499.8,347.3 500.7,347.1 501.6,348.1 502.5,348.2 503.4,348.4 504.3,344.7 505.2,346.7 506.1,346.5 507.0,344.4 507.9,341.7 508.8,341.6 509.7,338.6 510.6,337.6 511.5,338.7 512.4,335.4 513.3,333.0 514.2,330.9 515.1,328.7 516.0,324.8 516.9,323.0 517.8,321.2 518.7,319.6 519.6,317.4 520.5,314.8 521.4,309.9 522.3,308.8 523.2,305.9 524.1,305.2 525.0,300.7 525.9,299.8 526.8,299.6 527.7,302.9 528.6,303.8 529.5,303.4 530.4,304.1 531.3,307.8 532.2,309.4 533.1,310.0 534.0,310.3 534.9,311.9 535.8,313.8 536.7,313.6 537.6,314.0 538.5,314.9 539.4,316.0 540.3,308.9 541.2,306.3 542.1,300.2 543.0,298.6 543.9,299.6 544.8,296.8 545.7,296.4 546.6,292.7 547.5,289.2 548.4,291.7 549.3,294.8 550.2,298.5 551.1,298.9 552.0,294.5 552.9,291.9 553.8,289.2 554.7,290.1 555.6,287.0 556.5,284.4 557.4,280.6 558.3,277.4 559.2,276.7 560.1,270.8 561.0,270.6 561.9,269.1 562.8,275.0 563.7,274.8 564.6,274.1 565.5,275.1 566.4,271.4 567.3,271.6 568.2,267.7 569.1,265.4 570.0,266.5 570.9,266.6 571.8,267.6 572.7,267.4 573.6,265.2 574.5,266.2 575.4,265.2 576.3,262.8 577.2,261.5 578.1,254.0 579.0,244.2 579.9,237.8 580.8,229.8 581.7,228.1 582.6,228.9 583.5,227.8 584.4,222.4 585.3,220.9 586.2,220.2 587.1,217.2 588.0,219.4 588.0,218.0" stroke="#d4276a" stroke-width="2.2" fill="none" stroke-linejoin="round"/>
</svg>

<!-- y axis labels -->
<div class="yl" style="top:20.8px">7.000%</div>
<div class="yl" style="top:46.4px">6.500%</div>
<div class="yl" style="top:72.0px">6.000%</div>
<div class="yl" style="top:97.6px">5.500%</div>
<div class="yl" style="top:123.2px">5.000%</div>
<div class="yl" style="top:148.9px">4.500%</div>
<div class="yl" style="top:174.5px">4.000%</div>
<div class="yl" style="top:200.1px">3.500%</div>
<div class="yl" style="top:225.7px">3.000%</div>
<div class="yl" style="top:251.3px">2.500%</div>
<div class="yl" style="top:276.9px">2.000%</div>
<div class="yl" style="top:302.5px">1.500%</div>
<div class="yl" style="top:328.2px">1.000%</div>
<div class="yl" style="top:353.8px">0.500%</div>
<div class="yl" style="top:379.4px">0.000%</div>
<div class="yl" style="top:405.0px;left:599.5px">&minus;0.500%</div>

<!-- % box -->
<div class="abs" style="left:590px;top:0;width:50px;height:23.5px;background:#121212;"></div>
<div class="abs" style="left:595px;top:-3px;width:42px;height:23px;box-sizing:border-box;border:1px solid #4a4a4a;border-radius:4px;background:#121212;"></div>
<div class="abs" style="left:598px;top:5px;font-size:10px;color:#d0d0d0;">%</div>

<!-- price labels -->
<div class="lb" style="top:88.8px;background:#22a08f;"><span>5.624%</span></div>
<div class="lb" style="top:124px;background:#9d1ff0;"><span>4.929%</span></div>
<div class="lb" style="top:212px;background:#d81e62;"><span>3.202%</span></div>

<!-- x axis -->
<div class="xl" style="left:-4.7px">1999</div>
<div class="xl" style="left:37.8px">2001</div>
<div class="xl" style="left:81.3px">2003</div>
<div class="xl" style="left:124.3px">2005</div>
<div class="xl" style="left:168.3px">2007</div>
<div class="xl" style="left:211.8px">2009</div>
<div class="xl" style="left:254.8px">2011</div>
<div class="xl" style="left:298.8px">2013</div>
<div class="xl" style="left:358.3px">2016</div>
<div class="xl" style="left:401.3px">2018</div>
<div class="xl" style="left:444.8px">2020</div>
<div class="xl" style="left:488.3px">2022</div>
<div class="xl" style="left:531.3px">2024</div>

<!-- settings icon -->
<svg width="640" height="432" style="pointer-events:none">
  <polygon points="614.8,418.8 620.8,418.8 623.8,424.1 620.8,429.4 614.8,429.4 611.8,424.1" fill="none" stroke="#c8c8c8" stroke-width="1.2"/>
  <circle cx="617.8" cy="424.1" r="2.1" fill="none" stroke="#c8c8c8" stroke-width="1.1"/>
</svg>

<!-- title -->
<svg width="640" height="432" style="pointer-events:none">
  <defs><clipPath id="cuk"><circle cx="13.3" cy="10.5" r="7.3"/></clipPath>
  <clipPath id="cus"><circle cx="13.5" cy="63.8" r="7.3"/></clipPath></defs>
  <g clip-path="url(#cuk)">
    <rect x="5" y="2" width="17" height="17" fill="#4a5a9c"/>
    <path d="M5,2 L22,19 M22,2 L5,19" stroke="#fff" stroke-width="2.6"/>
    <path d="M5,2 L22,19 M22,2 L5,19" stroke="#d8343c" stroke-width="1"/>
    <path d="M13.3,2 V19 M5,10.5 H22" stroke="#fff" stroke-width="3.6"/>
    <path d="M13.3,2 V19 M5,10.5 H22" stroke="#d8343c" stroke-width="2"/>
  </g>
  <circle cx="13.5" cy="44.5" r="7.3" fill="#f2f2f2"/>
  <circle cx="13.5" cy="44.5" r="3.6" fill="#e0404a"/>
  <g clip-path="url(#cus)">
    <rect x="5" y="56" width="17" height="16" fill="#f2f2f2"/>
    <rect x="5" y="57.5" width="17" height="1.6" fill="#d8343c"/>
    <rect x="5" y="60.7" width="17" height="1.6" fill="#d8343c"/>
    <rect x="5" y="63.9" width="17" height="1.6" fill="#d8343c"/>
    <rect x="5" y="67.1" width="17" height="1.6" fill="#d8343c"/>
    <rect x="5" y="70.3" width="17" height="1.6" fill="#d8343c"/>
    <rect x="5" y="56" width="9" height="8" fill="#3b4a9a"/>
  </g>
  <circle cx="396.6" cy="9.7" r="6.2" fill="#14261f" stroke="#1c3a33" stroke-width="1"/>
  <circle cx="396.6" cy="9.7" r="3.5" fill="#3cbf9f"/>
</svg>
<div class="abs" style="left:25px;top:3.6px;font-size:12.6px;letter-spacing:0.1px;line-height:14px;color:#d8d8d8;-webkit-text-stroke:0.35px #d8d8d8;">United Kingdom 30 Year Government Bonds Yield · 1W · TVC</div>
<div class="abs ohlc" style="left:5px;color:#c8c8c8">O</div><div class="abs ohlc" style="left:12.5px">5.623%</div>
<div class="abs ohlc" style="left:51.2px;color:#c8c8c8">H</div><div class="abs ohlc" style="left:58.5px">5.646%</div>
<div class="abs ohlc" style="left:97px;color:#c8c8c8">L</div><div class="abs ohlc" style="left:102.6px">5.612%</div>
<div class="abs ohlc" style="left:142px;color:#c8c8c8">C</div><div class="abs ohlc" style="left:149px">5.624%</div>
<div class="abs ohlc" style="left:187.5px">+0.029</div><div class="abs ohlc" style="left:222.5px">(+0.52%)</div>

<!-- legend box -->
<div class="abs" style="left:1.3px;top:28px;width:215.2px;height:49.5px;box-sizing:border-box;border:3.7px solid #e4262b;background:rgba(18,18,18,0.72);"></div>
<svg width="640" height="432" style="pointer-events:none">
  <circle cx="13.5" cy="44.5" r="7.3" fill="#f2f2f2"/>
  <circle cx="13.5" cy="44.5" r="3.6" fill="#e0404a"/>
  <g clip-path="url(#cus)">
    <rect x="5" y="56" width="17" height="16" fill="#f2f2f2"/>
    <rect x="5" y="57.5" width="17" height="1.6" fill="#d8343c"/>
    <rect x="5" y="60.7" width="17" height="1.6" fill="#d8343c"/>
    <rect x="5" y="63.9" width="17" height="1.6" fill="#d8343c"/>
    <rect x="5" y="67.1" width="17" height="1.6" fill="#d8343c"/>
    <rect x="5" y="70.3" width="17" height="1.6" fill="#d8343c"/>
    <rect x="5" y="56" width="9" height="8" fill="#3b4a9a"/>
  </g>
</svg>
<div class="abs lg" style="left:24.4px;top:39.8px;color:#d8d8d8;">JP30Y · TVC</div>
<div class="abs lg" style="left:88.7px;top:39.8px;color:#b8305e;">3.202%</div>
<div class="abs lg" style="left:127px;top:39.8px;color:#b8305e;">+0.012</div>
<div class="abs lg" style="left:163px;top:39.8px;color:#b8305e;">(+0.38%)</div>
<div class="abs lg" style="left:24.4px;top:59.8px;color:#d8d8d8;">US30Y · TVC</div>
<div class="abs lg" style="left:89.8px;top:59.8px;color:#8a2ad0;">4.929%</div>
<div class="abs lg" style="left:127.7px;top:59.8px;color:#8a2ad0;">+0.051</div>
<div class="abs lg" style="left:164px;top:59.8px;color:#8a2ad0;">(+1.05%)</div>

<!-- collapse button -->
<div class="abs" style="left:5.5px;top:77px;width:23px;height:15px;box-sizing:border-box;border:1px solid #2e2e2e;border-radius:2px;background:#121212;"></div>
<svg width="640" height="432" style="pointer-events:none">
  <path d="M13.5,87 L17,83.8 L20.5,87" fill="none" stroke="#d8d8d8" stroke-width="1.3"/>
</svg>

<!-- annotation -->
<svg width="640" height="432" style="pointer-events:none">
  <rect x="252" y="55" width="105" height="4.6" fill="#e4262b"/>
  <polygon points="236.6,57.3 253.5,48.8 253.5,65.8" fill="#e4262b"/>
</svg>
<div class="abs" style="left:388px;top:41px;font-size:14.3px;line-height:16px;font-weight:bold;color:#e4262b;">30Y YIELDS SURGE</div>
<div class="abs" style="left:373.5px;top:60px;font-size:15px;line-height:17px;font-weight:bold;color:#e4262b;letter-spacing:-0.05px;">AROUND THE WORLD</div>

<!-- logo -->
<svg width="640" height="432" style="pointer-events:none">
  <path d="M8.1,388.3 H18.8 V399.5 H13.5 V392 H8.1 Z" fill="#e8e8e8"/>
  <circle cx="22.2" cy="390.1" r="2" fill="#e8e8e8"/>
  <path d="M25.8,388.3 H33.1 L26.9,399.5 H19.8 Z" fill="#e8e8e8"/>
</svg>
<div class="abs" style="left:41px;top:387.5px;font-size:11.3px;line-height:13px;font-weight:bold;color:#ececec;transform:scaleX(0.845);transform-origin:0 0;">@KOBEISSILETTER</div>

</body></html>
